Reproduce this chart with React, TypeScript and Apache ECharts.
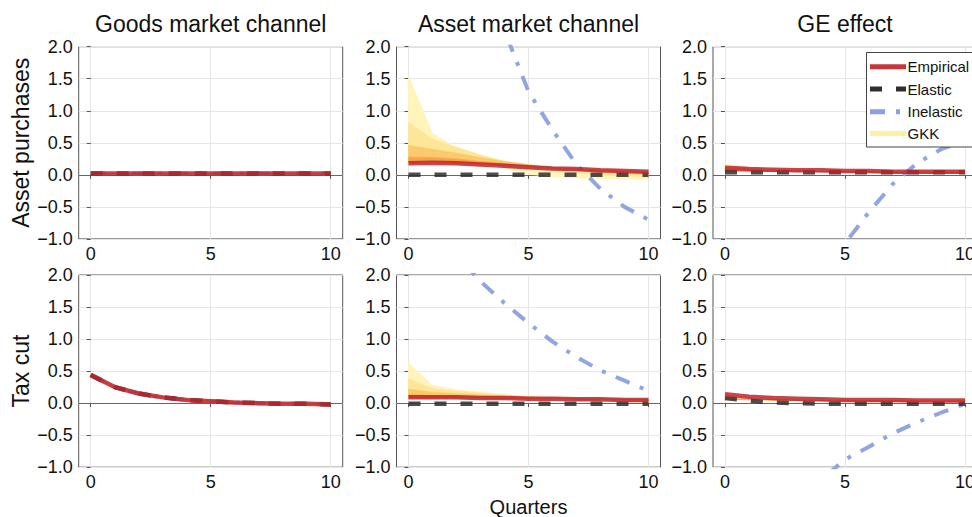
import React, { useEffect, useRef } from "react";
import * as echarts from "echarts";

// ---------- data ----------
const quarters = [0, 1, 2, 3, 4, 5, 6, 7, 8, 9, 10];
const xTicks = [0, 5, 10];

const colTitles = ["Goods market channel", "Asset market channel", "GE effect"];
const rowTitles = ["Asset purchases", "Tax cut"];
const legendNames = ["Empirical", "Elastic", "Inelastic", "GKK"];

// Goods market channel: all models coincide
const goodsAssetEmp = [0.02, 0.02, 0.02, 0.02, 0.02, 0.02, 0.02, 0.02, 0.02, 0.02, 0.02];
const goodsTaxEmp = [0.44, 0.25, 0.15, 0.09, 0.05, 0.03, 0.01, 0.0, -0.01, -0.01, -0.02];

// Asset market channel, asset purchases
const assetApEmp = [0.18, 0.19, 0.18, 0.16, 0.14, 0.12, 0.10, 0.09, 0.07, 0.06, 0.05];
const assetApEla = [0, 0, 0, 0, 0, 0, 0, 0, 0, 0, 0];
const assetApInel = [9.0, 7.0, 5.0, 3.5, 2.25, 1.3, 0.70, 0.16, -0.22, -0.50, -0.70];
const assetApG1 = [1.55, 0.65, 0.42, 0.24, 0.11, 0.01, -0.03, -0.05, -0.06, -0.07, -0.07];
const assetApG2 = [0.82, 0.56, 0.43, 0.31, 0.21, 0.13, 0.07, 0.03, 0.00, -0.02, -0.03];
const assetApG3 = [0.46, 0.40, 0.34, 0.27, 0.21, 0.16, 0.11, 0.07, 0.04, 0.02, 0.01];
const assetApG4 = [0.28, 0.27, 0.25, 0.21, 0.18, 0.14, 0.11, 0.09, 0.07, 0.05, 0.04];
const assetApG5 = [0.19, 0.20, 0.19, 0.17, 0.15, 0.13, 0.11, 0.09, 0.07, 0.06, 0.05];

// Asset market channel, tax cut
const assetTaxEmp = [0.09, 0.09, 0.09, 0.08, 0.08, 0.07, 0.07, 0.06, 0.06, 0.05, 0.05];
const assetTaxEla = [-0.01, -0.01, -0.01, -0.01, -0.01, -0.01, -0.01, -0.01, -0.01, -0.01, -0.01];
const assetTaxInel = [3.4, 2.8, 2.3, 1.9, 1.56, 1.25, 0.96, 0.72, 0.51, 0.35, 0.19];
const assetTaxG1 = [0.63, 0.28, 0.21, 0.17, 0.13, 0.10, 0.07, 0.05, 0.03, 0.02, 0.01];
const assetTaxG2 = [0.38, 0.23, 0.19, 0.16, 0.13, 0.10, 0.08, 0.06, 0.05, 0.04, 0.03];
const assetTaxG3 = [0.22, 0.17, 0.15, 0.13, 0.11, 0.10, 0.08, 0.07, 0.06, 0.05, 0.04];
const assetTaxG4 = [0.13, 0.12, 0.11, 0.10, 0.09, 0.08, 0.08, 0.07, 0.06, 0.06, 0.05];
const assetTaxG5 = [0.08, 0.08, 0.08, 0.08, 0.07, 0.07, 0.07, 0.06, 0.06, 0.06, 0.05];

// GE effect, asset purchases
const geApEmp = [0.11, 0.09, 0.08, 0.07, 0.07, 0.06, 0.06, 0.05, 0.05, 0.05, 0.05];
const geApEla = [0.04, 0.04, 0.04, 0.04, 0.04, 0.04, 0.04, 0.04, 0.04, 0.04, 0.04];
const geApInel = [-5.0, -4.0, -3.2, -2.4, -1.7, -1.07, -0.58, -0.14, 0.18, 0.40, 0.53];
const geApG1 = [0.17, 0.11, 0.08, 0.06, 0.05, 0.04, 0.03, 0.03, 0.02, 0.02, 0.02];
const geApG2 = [0.14, 0.10, 0.08, 0.06, 0.05, 0.05, 0.04, 0.03, 0.03, 0.03, 0.03];
const geApG3 = [0.11, 0.09, 0.07, 0.06, 0.05, 0.05, 0.04, 0.04, 0.04, 0.03, 0.03];
const geApG4 = [0.08, 0.07, 0.06, 0.06, 0.05, 0.05, 0.04, 0.04, 0.04, 0.04, 0.04];
const geApG5 = [0.05, 0.05, 0.05, 0.05, 0.05, 0.05, 0.05, 0.04, 0.04, 0.04, 0.04];

// GE effect, tax cut
const geTaxEmp = [0.14, 0.10, 0.08, 0.07, 0.06, 0.05, 0.05, 0.05, 0.04, 0.04, 0.04];
const geTaxEla = [0.08, 0.04, 0.01, 0.0, -0.01, -0.01, -0.01, -0.01, -0.01, -0.01, -0.01];
const geTaxInel = [-3.1, -2.5, -2.0, -1.55, -1.2, -0.88, -0.68, -0.47, -0.30, -0.15, -0.01];
const geTaxG1 = [0.12, 0.08, 0.06, 0.05, 0.04, 0.03, 0.03, 0.02, 0.02, 0.02, 0.02];
const geTaxG2 = [0.10, 0.07, 0.06, 0.05, 0.04, 0.04, 0.03, 0.03, 0.03, 0.02, 0.02];
const geTaxG3 = [0.08, 0.06, 0.05, 0.05, 0.04, 0.04, 0.03, 0.03, 0.03, 0.03, 0.03];
const geTaxG4 = [0.07, 0.06, 0.05, 0.04, 0.04, 0.04, 0.04, 0.03, 0.03, 0.03, 0.03];
const geTaxG5 = [0.06, 0.05, 0.05, 0.04, 0.04, 0.04, 0.04, 0.04, 0.03, 0.03, 0.03];

// ---------- styling ----------
const FONT = "'Liberation Sans', Arial, Helvetica, sans-serif";
const C_EMP = "#c0222a";
const C_ELA = "#2e2e2e";
const C_INEL = "#8ca0e2";
const C_GKK = "#fff09c";
const bandColors = ["#fff5bb", "#fee699", "#fcca6a", "#f6a449"]; // G1-G2, G2-G3, G3-G4, G4-G5
const DASH_ELA = [12, 14];
const DASH_INEL = [15, 11, 4, 11];

const colLeft = [78.7, 396.5, 713];
const rowTop = [46.7, 275];
const PW = 264;
const PH = 192.2;

type Panel = { emp: number[]; ela: number[]; inel: number[]; gkk: number[][] };

const panels: Panel[] = [
  { emp: goodsAssetEmp, ela: goodsAssetEmp, inel: goodsAssetEmp, gkk: [goodsAssetEmp, goodsAssetEmp, goodsAssetEmp, goodsAssetEmp, goodsAssetEmp] },
  { emp: assetApEmp, ela: assetApEla, inel: assetApInel, gkk: [assetApG1, assetApG2, assetApG3, assetApG4, assetApG5] },
  { emp: geApEmp, ela: geApEla, inel: geApInel, gkk: [geApG1, geApG2, geApG3, geApG4, geApG5] },
  { emp: goodsTaxEmp, ela: goodsTaxEmp, inel: goodsTaxEmp, gkk: [goodsTaxEmp, goodsTaxEmp, goodsTaxEmp, goodsTaxEmp, goodsTaxEmp] },
  { emp: assetTaxEmp, ela: assetTaxEla, inel: assetTaxInel, gkk: [assetTaxG1, assetTaxG2, assetTaxG3, assetTaxG4, assetTaxG5] },
  { emp: geTaxEmp, ela: geTaxEla, inel: geTaxInel, gkk: [geTaxG1, geTaxG2, geTaxG3, geTaxG4, geTaxG5] },
];

const fmtY = (v: number) => (v < 0 ? "\u2212" : "") + Math.abs(v).toFixed(1);
const pts = (ys: number[]) => quarters.map((q, i) => [q, ys[i]]);

function buildOption() {
  const grid: any[] = [];
  const xAxis: any[] = [];
  const yAxis: any[] = [];
  const series: any[] = [];

  panels.forEach((p, idx) => {
    const r = Math.floor(idx / 3);
    const c = idx % 3;
    grid.push({
      left: colLeft[c], top: rowTop[r], width: PW, height: PH,
      show: true, borderColor: "#555", borderWidth: 1, backgroundColor: "transparent",
      containLabel: false, outerBoundsMode: "none",
    });
    xAxis.push({
      type: "value", gridIndex: idx, min: -0.5, max: 10.5,
      axisLine: { show: false },
      axisTick: { show: true, customValues: xTicks, length: 4, lineStyle: { color: "#555" } },
      axisLabel: { customValues: xTicks, fontSize: 18, color: "#111", margin: 6, fontFamily: FONT },
      splitLine: { show: true, lineStyle: { color: "#e6e6e6", width: 1 } },
    });
    yAxis.push({
      type: "value", gridIndex: idx, min: -1, max: 2, interval: 0.5,
      axisLine: { show: false },
      axisTick: { show: true, length: 4, lineStyle: { color: "#555" } },
      axisLabel: { formatter: fmtY, fontSize: 18, color: "#111", margin: 6, fontFamily: FONT },
      splitLine: { show: true, lineStyle: { color: "#e6e6e6", width: 1 } },
    });

    const common = { xAxisIndex: idx, yAxisIndex: idx, symbol: "none", showSymbol: false, silent: true };

    // GKK fan: filled bands between consecutive GKK paths
    series.push({
      type: "custom", name: "GKK", xAxisIndex: idx, yAxisIndex: idx, z: 2, silent: true, clip: true,
      data: [[0, 0]],
      renderItem: (_params: any, api: any) => {
        const children: any[] = [];
        for (let k = 0; k < 4; k++) {
          const upper = p.gkk[k];
          const lower = p.gkk[k + 1];
          const points: number[][] = [];
          quarters.forEach((q, i) => points.push(api.coord([q, upper[i]])));
          for (let i = quarters.length - 1; i >= 0; i--) points.push(api.coord([quarters[i], lower[i]]));
          children.push({
            type: "polygon", shape: { points },
            style: { fill: bandColors[k], stroke: bandColors[k], lineWidth: 0.6 },
          });
        }
        return { type: "group", children };
      },
      markLine: {
        silent: true, symbol: "none", z: 1, label: { show: false },
        lineStyle: { color: "#666", width: 1, type: "solid" },
        data: [{ yAxis: 0 }],
      },
    });
    series.push({
      ...common, type: "line", name: "Inelastic", z: 3, data: pts(p.inel),
      lineStyle: { color: C_INEL, width: 4, type: DASH_INEL, opacity: 0.95, cap: "butt" },
    });
    series.push({
      ...common, type: "line", name: "Elastic", z: 4, data: pts(p.ela),
      lineStyle: { color: C_ELA, width: 4.5, type: DASH_ELA, opacity: 0.85, cap: "butt" },
    });
    series.push({
      ...common, type: "line", name: "Empirical", z: 5, data: pts(p.emp),
      lineStyle: { color: C_EMP, width: 4.5, opacity: 0.85 },
    });
  });

  const textStyle = (text: string, size: number) => ({
    text, fontSize: size, fontFamily: FONT, fill: "#111",
    align: "center", verticalAlign: "middle", textAlign: "center", textVerticalAlign: "middle",
  });

  const graphic: any[] = [];
  colTitles.forEach((t, c) => {
    graphic.push({ type: "text", x: colLeft[c] + PW / 2, y: 23.5, style: textStyle(t, 23) });
  });
  rowTitles.forEach((t, r) => {
    graphic.push({ type: "text", x: 21, y: rowTop[r] + PH / 2, rotation: Math.PI / 2, style: textStyle(t, 23) });
  });
  graphic.push({ type: "text", x: colLeft[1] + PW / 2, y: 507, style: textStyle("Quarters", 20) });

  // legend box
  const lx = 866.5, ly = 52.5;
  const rowsY = [66.7, 89, 111.7, 133.5];
  const legendStyles = [
    { stroke: "#c8363c", lineWidth: 5 },
    { stroke: C_ELA, lineWidth: 5, lineDash: DASH_ELA },
    { stroke: C_INEL, lineWidth: 5, lineDash: DASH_INEL },
    { stroke: C_GKK, lineWidth: 5 },
  ];
  graphic.push({
    type: "rect", z: 100, shape: { x: lx, y: ly, width: 130, height: 94.5 },
    style: { fill: "#fff", stroke: "#444", lineWidth: 1 },
  });
  legendNames.forEach((n, i) => {
    graphic.push({
      type: "line", z: 101, shape: { x1: 870, y1: rowsY[i], x2: 906, y2: rowsY[i] },
      style: { ...legendStyles[i], lineCap: "butt" },
    });
    graphic.push({
      type: "text", z: 101, x: 907.5, y: rowsY[i],
      style: { text: n, fontSize: 15, fontFamily: FONT, fill: "#111", align: "left", verticalAlign: "middle", textAlign: "left", textVerticalAlign: "middle" },
    });
  });

  return {
    animation: false,
    backgroundColor: "#ffffff",
    textStyle: { fontFamily: FONT },
    grid, xAxis, yAxis, series, graphic,
  };
}

export default function App() {
  const ref = useRef<HTMLDivElement>(null);
  useEffect(() => {
    if (!ref.current) return;
    const chart = echarts.init(ref.current, undefined, { renderer: "svg" });
    chart.setOption(buildOption() as any);
    return () => chart.dispose();
  }, []);
  return <div ref={ref} style={{ position: "fixed", left: 0, top: 0, width: 972, height: 517 }} />;
}
